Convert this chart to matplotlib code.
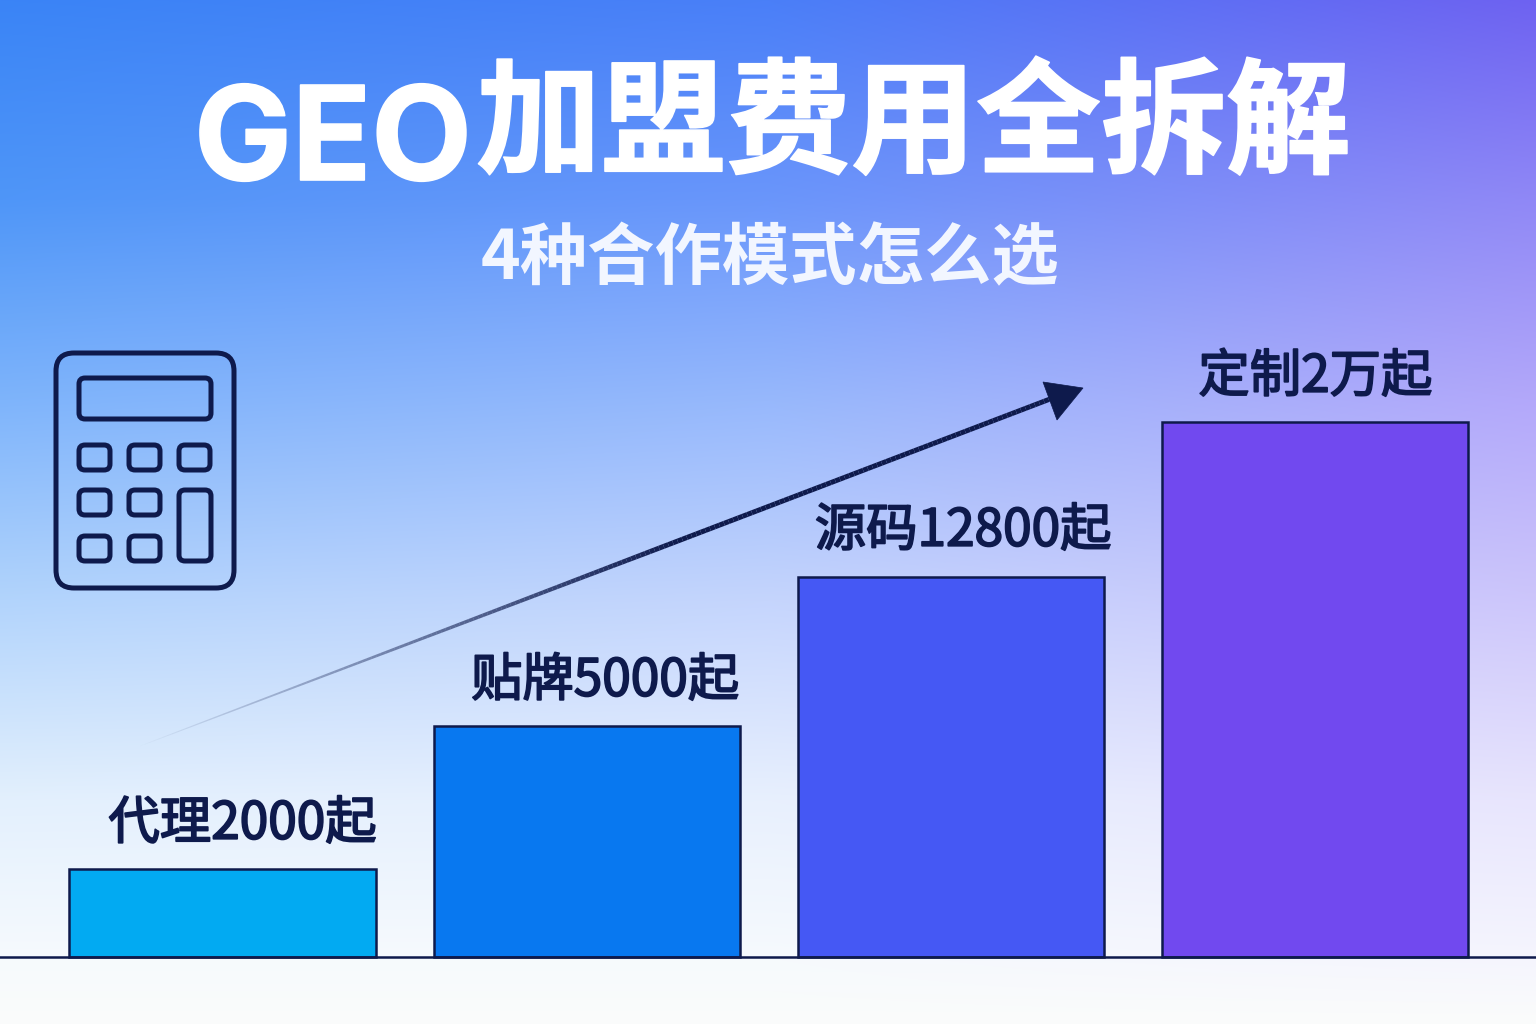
import matplotlib
matplotlib.use("Agg")
import matplotlib.pyplot as plt
import matplotlib.patheffects as pe
import numpy as np
from matplotlib.collections import LineCollection
from matplotlib.colors import to_rgb
from matplotlib.patches import FancyBboxPatch, Polygon

plt.rcParams['font.family'] = ['Noto Sans CJK SC', 'DejaVu Sans']

categorias = ["代理2000起", "贴牌5000起", "源码12800起", "定制2万起"]
alturas = [88, 231, 380, 535]  # bar heights (not to scale with the prices)
colores = ["#02aaf2", "#0878f0", "#4558f4", "#7149ef"]
desplaz_x = [0.055, 0.05, 0.033, 0.0]
desplaz_y = [45, 45, 46, 45]

titulo_lat = "GEO"
titulo_cjk = "加盟费用全拆解"
subtitulo = "4种合作模式怎么选"

azul = "#0e1a4c"

# background colours, rows top to bottom, left/centre/right
fondo_hex = [
    ["#3a84f6", "#4a7ff8", "#6e62f1"],
    ["#4f96f8", "#6a96fb", "#9088f6"],
    ["#7eb4fb", "#97b8fc", "#b3a8fa"],
    ["#b2d4fc", "#c5d5fd", "#cdc6fb"],
    ["#e3f0fd", "#e8f0fe", "#e8e5fd"],
    ["#f6fafd", "#f6fafd", "#f5f5fe"],
    ["#fbfcfb", "#fbfcfb", "#fbfcfb"],
]
fondo_y = [0, 200, 400, 600, 800, 957, 1024]

fig = plt.figure(figsize=(15.36, 10.24), dpi=100)

# back layer in picture pixels
ax_bg = fig.add_axes([0, 0, 1, 1])
fondo = np.array([[to_rgb(c) for c in fila] for fila in fondo_hex])
yy = np.arange(1024)
filas = np.stack([np.interp(yy, fondo_y, fondo[:, j, k]) for j in range(3) for k in range(3)], axis=1).reshape(1024, 3, 3)
xx = np.linspace(0, 2, 1536)
img = np.zeros((1024, 1536, 3))
for k in range(3):
    for i in range(1024):
        img[i, :, k] = np.interp(xx, [0, 1, 2], filas[i, :, k])
ax_bg.imshow(img, extent=(0, 1536, 1024, 0), aspect='auto', interpolation='bilinear')
ax_bg.set_xlim(0, 1536)
ax_bg.set_ylim(1024, 0)
ax_bg.axis('off')

trazo = [pe.withStroke(linewidth=1.2, foreground='white')]
ax_bg.text(472, 180, titulo_lat, color='white', fontsize=94, fontweight='bold', ha='right', va='baseline',
           family=['Inter', 'DejaVu Sans'], path_effects=trazo)
ax_bg.text(476, 127, titulo_cjk, color='white', fontsize=90, fontweight='bold', ha='left', va='center',
           path_effects=trazo)
ax_bg.text(770, 260, subtitulo, color='#f2f6ff', fontsize=48.5, fontweight='bold', ha='center', va='center')


def caja(x0, y0, x1, y1, r, lw=3.6):
    ax_bg.add_patch(FancyBboxPatch((x0 + r, y0 + r), x1 - x0 - 2 * r, y1 - y0 - 2 * r,
                                   boxstyle=f"round,pad={r},rounding_size={r}",
                                   fc='none', ec=azul, lw=lw))


# calculator icon
caja(56, 353, 234, 588, 18)
caja(79, 378, 211, 419, 6)
for cx in [79, 129, 179]:
    caja(cx, 445, cx + 31, 470, 6)
for cx in [79, 129]:
    caja(cx, 490, cx + 31, 515, 6)
    caja(cx, 536, cx + 31, 561, 6)
caja(179, 490, 211, 561, 6)

# arrow fading in from the left
n = 200
xs = np.linspace(135, 1058, n)
ys = np.linspace(748, 396, n)
puntos = np.column_stack([xs, ys]).reshape(-1, 1, 2)
segs = np.concatenate([puntos[:-1], puntos[1:]], axis=1)
rgb = to_rgb(azul)
tramo = np.clip(np.linspace(0, 1, n - 1) * 1.7, 0, 1)
colores_linea = [(rgb[0], rgb[1], rgb[2], a) for a in tramo]
anchos = np.clip(np.linspace(0.5, 6.0, n - 1), 0.5, 3.6)
ax_bg.add_collection(LineCollection(segs, colors=colores_linea, linewidths=anchos, capstyle='butt'))
ax_bg.add_patch(Polygon([[1083, 388], [1043, 382], [1057, 420]], closed=True, fc=azul, ec=azul, lw=0.5))

# bars
ax = fig.add_axes([0, 0, 1, 1], facecolor='none')
ax.set_xlim(-222.5 / 364.3, (1536 - 222.5) / 364.3)
ax.set_ylim(-67, 957)
ax.axis('off')
pos = np.arange(len(categorias))
ax.bar(pos, alturas, width=0.84, color=colores, edgecolor=azul, linewidth=1.8, zorder=2)
ax.axhline(0, color=azul, lw=1.8, zorder=3)
for i, nombre in enumerate(categorias):
    ax.text(pos[i] + desplaz_x[i], alturas[i] + desplaz_y[i], nombre, color=azul, fontsize=37,
            fontweight='medium', ha='center', va='center', zorder=4,
            path_effects=[pe.withStroke(linewidth=1.3, foreground=azul)])

fig.savefig('out.png', dpi=100)
